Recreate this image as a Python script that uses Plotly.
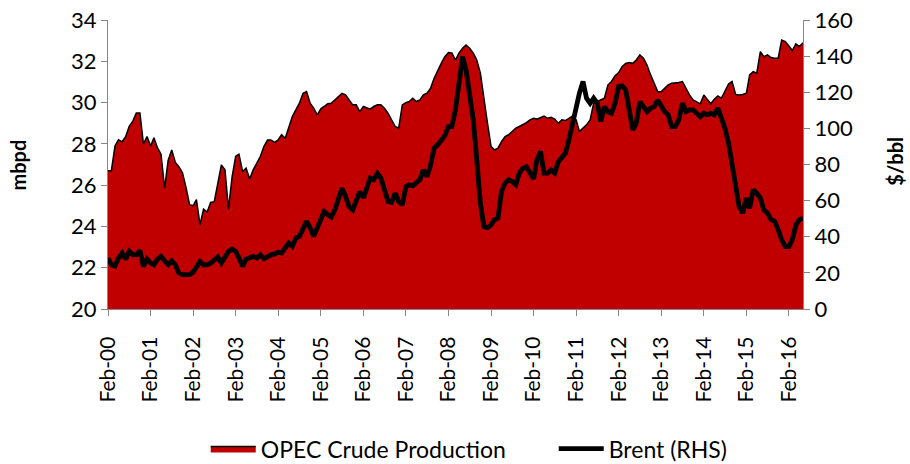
import pandas as pd
import plotly.graph_objects as go

# Monthly data, Feb-2000 .. Jun-2016
months = pd.date_range("2000-02-01", periods=197, freq="MS")

opec_mbpd = [
    26.7, 26.7, 27.9, 28.2, 28.1, 28.35, 28.85, 29.1, 29.5, 29.5, 28.0, 28.35, 27.9, 28.3, 27.8, 27.5, 25.85, 27.2, 27.7, 27.1, 26.9, 26.6, 25.9, 25.05, 25.0,
    25.3, 24.08, 24.84, 24.7, 25.16, 25.2, 26.1, 26.98, 26.74, 24.84, 26.4, 27.4, 27.5, 26.66, 26.82, 26.3, 26.74, 27.07, 27.4, 27.87, 28.19, 28.19, 28.07, 28.2,
    28.44, 28.27, 28.84, 29.32, 29.65, 29.97, 30.45, 30.53, 29.97, 29.73, 29.4, 29.7, 29.81, 29.94, 29.97, 30.13, 30.32, 30.45, 30.37, 30.13, 29.89, 29.89, 29.56, 29.81,
    29.73, 29.68, 29.81, 29.89, 29.89, 29.73, 29.48, 29.16, 28.84, 28.76, 29.89, 30.0, 30.05, 30.21, 30.05, 30.13, 30.37, 30.45, 30.7, 31.18, 31.58, 31.9, 32.22, 32.42,
    32.4, 32.06, 32.4, 32.63, 32.79, 32.63, 32.4, 32.06, 31.42, 30.13, 29.0, 27.87, 27.71, 27.79, 28.11, 28.35, 28.44, 28.6, 28.76, 28.84, 28.92, 29.03, 29.16, 29.24,
    29.2, 29.29, 29.35, 29.24, 29.29, 29.2, 29.0, 29.16, 29.13, 29.24, 29.35, 29.16, 28.6, 28.76, 28.92, 29.16, 29.97, 30.05, 30.13, 30.21, 30.86, 31.02, 31.3, 31.45,
    31.74, 31.9, 31.94, 31.9, 32.06, 32.31, 32.15, 31.82, 31.34, 30.94, 30.53, 30.53, 30.7, 30.86, 30.94, 30.94, 30.97, 31.02, 30.7, 30.37, 30.13, 30.05, 29.94, 30.37,
    30.16, 29.94, 30.16, 30.32, 30.21, 30.53, 30.9, 31.02, 30.39, 30.37, 30.39, 30.45, 31.34, 31.5, 31.42, 32.47, 32.22, 32.31, 32.18, 32.15, 32.15, 33.03, 32.95, 32.74,
    32.52, 32.84, 32.71, 32.9,
]

brent_usd = [
    28.2, 24.5, 23.8, 28.2, 31.0, 27.6, 31.9, 30.0, 30.0, 32.4, 23.6, 27.6, 25.4, 24.5, 27.6, 29.1, 26.7, 24.5, 26.7, 24.5, 19.9, 19.0, 19.0, 19.0, 20.5,
    23.6, 26.3, 24.5, 24.5, 25.4, 27.3, 28.8, 25.4, 29.1, 31.9, 33.2, 31.9, 28.2, 23.6, 27.6, 28.2, 29.1, 28.2, 30.0, 27.8, 29.1, 30.0, 30.5, 31.5,
    31.0, 33.7, 36.5, 34.7, 39.3, 40.2, 43.9, 48.5, 45.0, 40.2, 45.0, 49.4, 54.0, 52.3, 50.9, 54.9, 60.5, 66.9, 62.3, 56.7, 54.9, 60.5, 65.0, 61.5,
    66.0, 72.5, 71.6, 75.2, 72.5, 65.0, 59.5, 59.0, 64.2, 59.5, 57.7, 67.8, 68.7, 68.2, 69.7, 71.6, 77.0, 73.3, 79.8, 89.0, 90.9, 93.6, 96.0, 101.0,
    101.0, 110.2, 123.1, 139.7, 132.4, 117.6, 104.7, 82.6, 58.6, 45.7, 45.0, 46.6, 49.4, 50.3, 65.0, 69.7, 71.6, 70.6, 68.8, 75.2, 78.0, 78.8, 75.0, 72.0,
    82.6, 87.2, 75.2, 75.2, 77.0, 75.2, 81.6, 83.5, 86.3, 93.6, 102.9, 112.0, 119.5, 125.9, 116.7, 113.9, 116.7, 113.9, 103.8, 112.0, 109.3, 108.4, 114.0, 123.1,
    123.5, 121.3, 111.2, 99.2, 102.9, 114.8, 112.0, 109.3, 111.2, 112.0, 115.7, 112.0, 109.3, 107.5, 101.0, 101.0, 104.7, 113.9, 109.3, 110.2, 110.2, 108.4, 106.5, 108.4,
    107.5, 108.4, 107.5, 111.2, 105.6, 100.1, 91.8, 80.8, 67.8, 56.7, 53.1, 61.4, 55.8, 66.0, 64.2, 61.4, 54.9, 53.1, 49.4, 48.5, 43.9, 38.3, 34.6, 34.6,
    38.3, 46.6, 49.5, 50.3,
]

tick_dates = [f"{y}-02-01" for y in range(2000, 2017)]
tick_labels = [f"Feb-{y % 100:02d}" for y in range(2000, 2017)]
left_ticks = [20, 22, 24, 26, 28, 30, 32, 34]
right_ticks = [0, 20, 40, 60, 80, 100, 120, 140, 160]
left_title = "mbpd"
right_title = "$/bbl"

FONT = "Lato, 'Open Sans', sans-serif"
AXIS_GREY = "#868686"

fig = go.Figure()
fig.add_trace(go.Scatter(
    x=months, y=opec_mbpd, name="OPEC Crude Production",
    mode="lines", fill="tozeroy", fillcolor="#C00000",
    line=dict(color="black", width=1.5),
))
fig.add_trace(go.Scatter(
    x=months, y=brent_usd, name="Brent (RHS)", yaxis="y2",
    mode="lines", line=dict(color="black", width=4.8),
))

fig.update_layout(
    width=910, height=464,
    margin=dict(l=108, r=107, t=20, b=155, autoexpand=False),
    paper_bgcolor="white", plot_bgcolor="white",
    font=dict(family=FONT, size=20, color="black"),
    showlegend=True,
    legend=dict(orientation="h", xref="container", x=0.6085, xanchor="center",
                y=-0.483, yanchor="middle",
                font=dict(size=23), entrywidth=288, itemwidth=45,
                traceorder="normal"),
    xaxis=dict(
        range=[months[0], months[-1]], automargin=False,
        tickmode="array", tickvals=tick_dates, ticktext=tick_labels,
        tickangle=-90, ticks="outside", ticklen=6, tickcolor=AXIS_GREY,
        ticklabelstandoff=12,
        showline=True, linecolor=AXIS_GREY, linewidth=1.3,
        showgrid=False, zeroline=False, tickfont=dict(size=21),
    ),
    yaxis=dict(
        range=[20, 34], tickmode="array", tickvals=left_ticks, automargin=False,
        ticks="outside", ticklen=6, tickcolor=AXIS_GREY,
        showline=True, linecolor=AXIS_GREY, linewidth=1.3,
        showgrid=False, zeroline=False, tickfont=dict(size=22),
    ),
    yaxis2=dict(
        range=[0, 160], tickmode="array", tickvals=right_ticks, automargin=False,
        overlaying="y", side="right",
        ticks="outside", ticklen=6, tickcolor=AXIS_GREY,
        showline=True, linecolor=AXIS_GREY, linewidth=1.3,
        showgrid=False, zeroline=False, tickfont=dict(size=22),
    ),
    annotations=[
        dict(text=f"<b>{left_title}</b>", xref="paper", yref="paper",
             x=-0.1295, y=0.5, xanchor="center", yanchor="middle",
             textangle=-90, showarrow=False, font=dict(size=20)),
        dict(text=f"<b>{right_title}</b>", xref="paper", yref="paper",
             x=1.1324, y=0.51, xanchor="center", yanchor="middle",
             textangle=-90, showarrow=False, font=dict(size=20)),
    ],
)

fig.write_html("out.html", config={"displayModeBar": False},
               post_script="document.body.style.margin='0px';")
